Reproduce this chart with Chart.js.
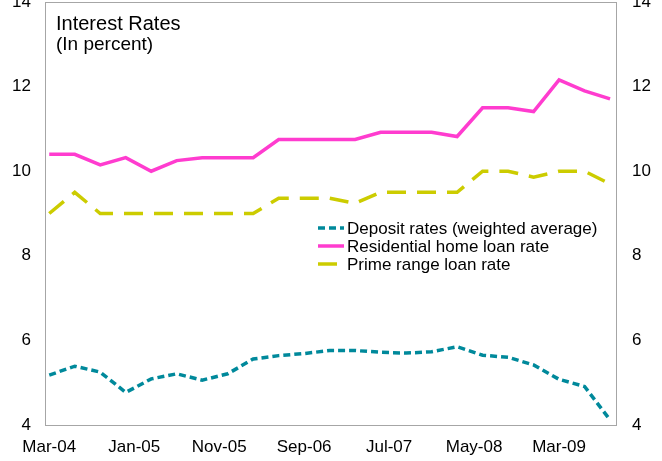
<!DOCTYPE html>
<html>
<head>
<meta charset="utf-8">
<script src="https://cdn.jsdelivr.net/npm/chart.js@4"></script>
<style>
  html, body { margin: 0; padding: 0; background: #fff; }
  canvas { display: block; }
</style>
</head>
<body>
<canvas id="myChart" width="662" height="461"></canvas>
<script>
// quarterly observations, Mar-04 .. Sep-09
var quarters = ['Mar-04', 'Jun-04', 'Sep-04', 'Dec-04', 'Mar-05', 'Jun-05', 'Sep-05', 'Dec-05',
    'Mar-06', 'Jun-06', 'Sep-06', 'Dec-06', 'Mar-07', 'Jun-07', 'Sep-07', 'Dec-07',
    'Mar-08', 'Jun-08', 'Sep-08', 'Dec-08', 'Mar-09', 'Jun-09', 'Sep-09'];
var depositRates = [5.18, 5.39, 5.25, 4.77, 5.09, 5.21, 5.06, 5.21, 5.56, 5.64, 5.69, 5.76,
    5.76, 5.72, 5.70, 5.73, 5.85, 5.65, 5.60, 5.42, 5.08, 4.91, 4.12];
var homeLoanRate = [10.4, 10.4, 10.15, 10.32, 10.0, 10.25, 10.32, 10.32, 10.32, 10.75, 10.75, 10.75,
    10.75, 10.92, 10.92, 10.92, 10.82, 11.5, 11.5, 11.41, 12.16, 11.9, 11.71];
var primeRate = [9.0, 9.5, 9.0, 9.0, 9.0, 9.0, 9.0, 9.0, 9.0, 9.36, 9.36, 9.36,
    9.24, 9.5, 9.5, 9.5, 9.5, 10.0, 10.0, 9.86, 10.0, 10.0, 9.7];

// x axis labels, one every 10 months
var tickLabels = ['Mar-04', 'Jan-05', 'Nov-05', 'Sep-06', 'Jul-07', 'May-08', 'Mar-09'];
var yTicks = [4, 6, 8, 10, 12, 14];

var FONT = "'Liberation Sans', Arial, sans-serif";

function toPoints(values) {
    return values.map(function (v, i) {
        return { x: i * 3, y: v }; // 3 months per quarter
    });
}

// box round the plot area, title and legend drawn inside it
var decorations = {
    id: 'decorations',
    afterDraw: function (chart) {
        var ctx = chart.ctx;
        var a = chart.chartArea;
        ctx.save();
        ctx.strokeStyle = '#a6a6a6';
        ctx.lineWidth = 1;
        ctx.strokeRect(Math.round(a.left) + 0.5, Math.round(a.top) + 0.5,
            Math.round(a.right - a.left), Math.round(a.bottom - a.top));

        ctx.fillStyle = '#000';
        ctx.textBaseline = 'alphabetic';
        ctx.font = '20px ' + FONT;
        ctx.fillText('Interest Rates', 56, 30);
        ctx.font = '19px ' + FONT;
        ctx.fillText('(In percent)', 56, 50);

        ctx.font = '17px ' + FONT;
        ctx.textBaseline = 'middle';
        chart.data.datasets.forEach(function (ds, k) {
            var y = 228 + k * 18;
            ctx.beginPath();
            ctx.strokeStyle = ds.borderColor;
            ctx.lineWidth = ds.borderWidth;
            ctx.setLineDash(ds.borderDash || []);
            ctx.moveTo(318, y);
            ctx.lineTo(344, y);
            ctx.stroke();
            ctx.setLineDash([]);
            ctx.fillStyle = '#000';
            ctx.fillText(ds.label, 347, y + 1);
        });
        ctx.restore();
    }
};

var yCommon = {
    type: 'linear',
    min: 4,
    max: 14,
    grid: { display: false, drawTicks: false },
    border: { display: false },
    afterBuildTicks: function (scale) {
        scale.ticks = yTicks.map(function (v) { return { value: v }; });
    },
    ticks: {
        color: '#000',
        font: { family: FONT, size: 17 }
    }
};

var ctx = document.getElementById('myChart').getContext('2d');
var chart = new Chart(ctx, {
    type: 'line',
    data: {
        datasets: [{
            label: 'Deposit rates (weighted average)',
            data: toPoints(depositRates),
            borderColor: '#00899b',
            borderWidth: 3.5,
            borderDash: [7, 4]
        }, {
            label: 'Residential home loan rate',
            data: toPoints(homeLoanRate),
            borderColor: '#ff3ccf',
            borderWidth: 3.5
        }, {
            label: 'Prime range loan rate',
            data: toPoints(primeRate),
            borderColor: '#cccc00',
            borderWidth: 3.5,
            borderDash: [19, 11]
        }]
    },
    options: {
        responsive: false,
        animation: false,
        layout: { padding: { top: 2, left: 0, right: 0, bottom: 0 } },
        elements: {
            point: { radius: 0 },
            line: { tension: 0, fill: false }
        },
        plugins: {
            legend: { display: false },
            tooltip: { enabled: false }
        },
        scales: {
            x: {
                type: 'linear',
                min: -0.5,
                max: 66.7,
                grid: { display: false, drawTicks: false },
                border: { display: false },
                afterBuildTicks: function (scale) {
                    scale.ticks = tickLabels.map(function (t, k) { return { value: k * 10 }; });
                },
                afterFit: function (scale) {
                    scale.height = 36;
                    scale.paddingLeft = 0;
                    scale.paddingRight = 0;
                },
                ticks: {
                    color: '#000',
                    padding: 12,
                    maxRotation: 0,
                    autoSkip: false,
                    font: { family: FONT, size: 17 },
                    callback: function (v) { return tickLabels[Math.round(v / 10)]; }
                }
            },
            y: Object.assign({}, yCommon, {
                position: 'left',
                afterFit: function (scale) {
                    scale.width = 45;
                    scale.paddingTop = 0;
                    scale.paddingBottom = 0;
                },
                ticks: Object.assign({}, yCommon.ticks, { padding: 14 })
            }),
            y2: Object.assign({}, yCommon, {
                position: 'right',
                afterFit: function (scale) {
                    scale.width = 46;
                    scale.paddingTop = 0;
                    scale.paddingBottom = 0;
                },
                ticks: Object.assign({}, yCommon.ticks, { padding: 16 })
            })
        }
    },
    plugins: [decorations]
});
</script>
</body>
</html>
